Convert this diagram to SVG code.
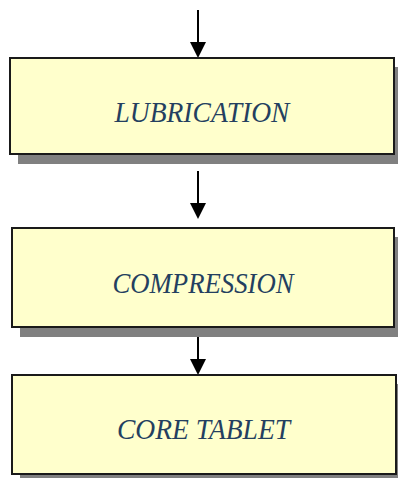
<svg xmlns="http://www.w3.org/2000/svg" width="398" height="478" viewBox="0 0 398 478">
<style>
.shadow{fill:#808080}
.box{fill:#FFFFCC;stroke:#1a1a1a;stroke-width:2}
.lbl{font-family:"Liberation Serif",serif;font-style:italic;font-size:29px;fill:#243F60;text-anchor:middle}
.conn{stroke:#000;stroke-width:2;fill:none}
.head{fill:#000}
</style>
<rect width="398" height="478" fill="#fff"/>
<g id="connectors">
<line class="conn" x1="198" y1="10" x2="198" y2="44"/>
<polygon class="head" points="190,42 206,42 198,58"/>
<line class="conn" x1="198" y1="171" x2="198" y2="205"/>
<polygon class="head" points="190,203 206,203 198,219"/>
<line class="conn" x1="198" y1="337" x2="198" y2="361"/>
<polygon class="head" points="190,359 206,359 198,375"/>
</g>
<g id="lubrication">
<rect class="shadow" x="18" y="67" width="384" height="97"/>
<rect class="box" x="10" y="58" width="384" height="96"/>
<text class="lbl" x="202" y="122" textLength="175" lengthAdjust="spacingAndGlyphs">LUBRICATION</text>
</g>
<g id="compression">
<rect class="shadow" x="20" y="237" width="382" height="100"/>
<rect class="box" x="12" y="228" width="382" height="99"/>
<text class="lbl" x="203" y="292.5" textLength="181" lengthAdjust="spacingAndGlyphs">COMPRESSION</text>
</g>
<g id="core-tablet">
<rect class="shadow" x="20" y="384" width="384" height="100"/>
<rect class="box" x="12" y="375" width="384" height="99"/>
<text class="lbl" x="203.5" y="439" textLength="173" lengthAdjust="spacingAndGlyphs">CORE TABLET</text>
</g>
</svg>
